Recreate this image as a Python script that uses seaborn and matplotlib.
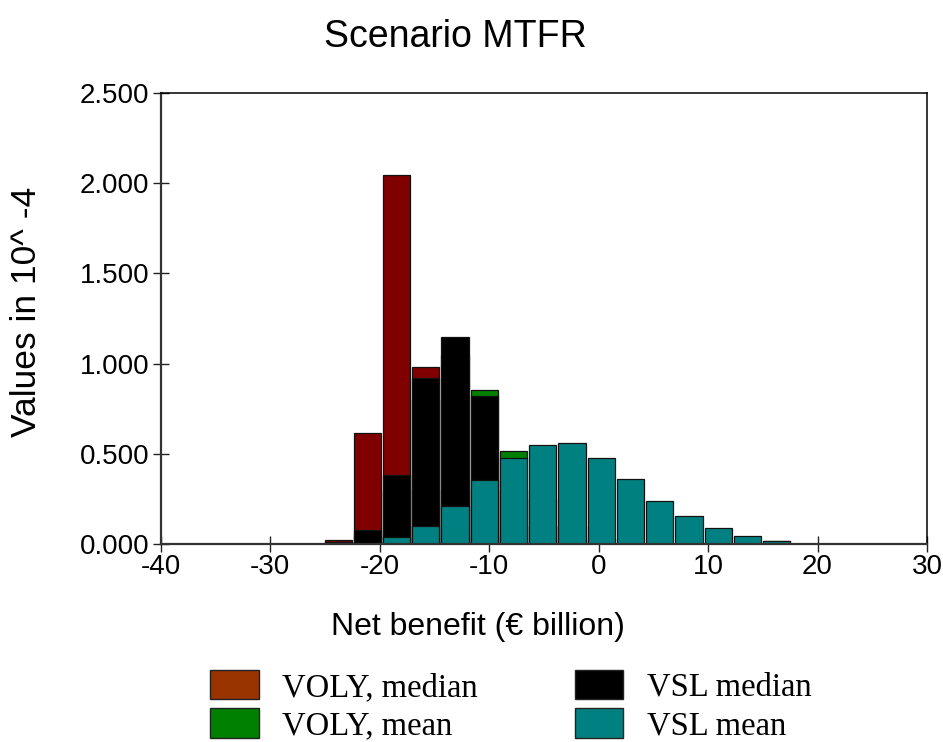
import numpy as np
import pandas as pd
import matplotlib
matplotlib.use("Agg")
import matplotlib.pyplot as plt
from matplotlib.patches import Patch
import seaborn as sns

# ---- data ----
bin_centers = [-23.78, -21.11, -18.44, -15.77, -13.10, -10.43, -7.76, -5.09,
               -2.42, 0.25, 2.92, 5.59, 8.26, 10.93, 13.60, 16.27]
voly_median = [0.022, 0.615, 2.047, 0.981, 0.30, 0.05, 0.0, 0.0,
               0.0, 0.0, 0.0, 0.0, 0.0, 0.0, 0.0, 0.0]
voly_mean = [0.01, 0.05, 0.30, 0.80, 1.05, 0.852, 0.515, 0.25,
             0.10, 0.03, 0.0, 0.0, 0.0, 0.0, 0.0, 0.0]
vsl_median = [0.012, 0.076, 0.381, 0.922, 1.147, 0.820, 0.30, 0.10,
              0.02, 0.0, 0.0, 0.0, 0.0, 0.0, 0.0, 0.015]
vsl_mean = [0.0, 0.0, 0.039, 0.10, 0.21, 0.357, 0.479, 0.548,
            0.560, 0.477, 0.362, 0.241, 0.155, 0.090, 0.043, 0.018]
series_names = ["VOLY, median", "VOLY, mean", "VSL median", "VSL mean"]
x_ticks = [-40, -30, -20, -10, 0, 10, 20, 30]
y_ticks = [0.0, 0.5, 1.0, 1.5, 2.0, 2.5]

bar_colors = ["#800000", "#008000", "#000000", "#008080"]
legend_colors = ["#993300", "#008000", "#000000", "#008080"]

sns.set_style("white")
plt.rcParams["font.family"] = ["Liberation Sans", "DejaVu Sans"]
plt.rcParams["text.color"] = "black"
plt.rcParams["axes.labelcolor"] = "black"

W, H = 943, 742
fig = plt.figure(figsize=(W / 100, H / 100), dpi=100)
ax_l, ax_r, ax_t, ax_b = 160.5, 927, 93, 544
ax = fig.add_axes([ax_l / W, 1 - ax_b / H, (ax_r - ax_l) / W, (ax_b - ax_t) / H])

centers = np.array(bin_centers)
width = np.diff(centers).mean()
edges = [float(e) for e in np.concatenate([centers - width / 2, [centers[-1] + width / 2]])]

df = pd.DataFrame({"x": bin_centers})
for name, vals, col in zip(series_names, [voly_median, voly_mean, vsl_median, vsl_mean], bar_colors):
    df["w"] = vals
    sns.histplot(data=df, x="x", weights="w", bins=edges, shrink=0.93,
                 color=col, alpha=1, edgecolor="#111111", linewidth=0.9, ax=ax)

ax.set_xlim(-40, 30)
ax.set_ylim(0, 2.5)
ax.set_xticks(x_ticks)
ax.set_xticklabels([f"{t:d}" for t in x_ticks])
ax.set_yticks(y_ticks)
ax.set_yticklabels([f"{t:.3f}" for t in y_ticks])
ax.tick_params(axis="both", direction="inout", length=12, width=1.0, color="#222222",
               labelsize=20, labelcolor="black")
ax.tick_params(axis="x", pad=1, bottom=True)
ax.tick_params(axis="y", pad=2, left=True)
for s in ["left", "bottom"]:
    ax.spines[s].set_linewidth(1.6)
    ax.spines[s].set_color("#333333")
for s in ["top", "right"]:
    ax.spines[s].set_linewidth(1.1)
    ax.spines[s].set_color("black")
ax.spines["top"].set_visible(True)
ax.spines["right"].set_visible(True)

ax.set_xlabel("Net benefit (€ billion)", fontsize=23, color="black")
ax.set_ylabel("Values in 10^ -4", fontsize=25.5, color="black")
ax.xaxis.set_label_coords((477.7 - ax_l) / (ax_r - ax_l), (ax_b - 627) / (ax_b - ax_t))
ax.yaxis.set_label_coords((27 - ax_l) / (ax_r - ax_l), (ax_b - 312) / (ax_b - ax_t))
ax.xaxis.label.set_va("center")
ax.yaxis.label.set_va("center")

fig.text(455 / W, 1 - 47 / H, "Scenario MTFR", fontsize=27, ha="center", va="baseline",
         color="black")

handles = [Patch(facecolor=c, edgecolor="#222222", linewidth=1.0) for c in legend_colors]
leg = fig.legend(handles, series_names, ncol=2, loc="upper left",
                 bbox_to_anchor=(210 / W, 1 - 670 / H), frameon=False,
                 prop={"family": "Liberation Serif", "size": 23.5},
                 handlelength=1.49, handleheight=1.01, handletextpad=0.72,
                 columnspacing=2.97, labelspacing=0.17, borderpad=0, borderaxespad=0)
for t in leg.get_texts():
    t.set_color("black")

fig.savefig("out.png", dpi=100)
